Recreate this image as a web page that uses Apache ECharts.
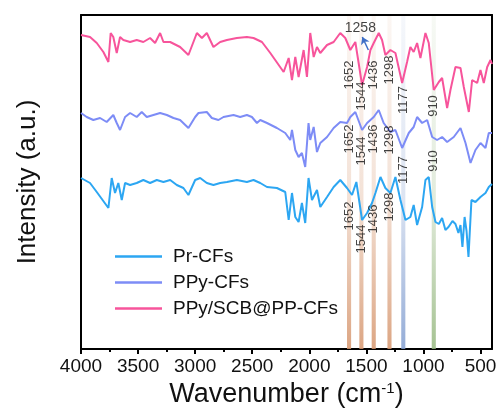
<!DOCTYPE html>
<html>
<head>
<meta charset="utf-8">
<script src="https://cdn.jsdelivr.net/npm/echarts@6/dist/echarts.min.js"></script>
<style>html,body{margin:0;padding:0;background:#fff}#c{width:502px;height:417px}</style>
</head>
<body>
<div id="c"></div>
<script>
// ---------- data (wavenumber in cm-1, intensity in a.u. with vertical offsets as in the figure) ----------
var seriesNames = ['Pr-CFs', 'PPy-CFs', 'PPy/SCB@PP-CFs'];
var seriesColors = ['#2CA6F2', '#7D8CF6', '#F7549B'];

var prWn  = [4000,3921,3862,3760,3731,3702,3673,3643,3614,3570,3512,3454,3395,3336,3278,3219,3161,3103,3059,3000,2956,2898,2840,2781,2722,2635,2547,2489,2430,2371,2284,2211,2181,2152,2123,2094,2065,2036,2007,1977,1933,1904,1845,1787,1729,1670,1626,1588,1538,1494,1451,1421,1377,1334,1290,1246,1202,1158,1115,1086,1056,1012,983,954,924,895,866,837,808,781,746,720,694,676,659,640,623,606,580,545,501,457,428,400];
var prVal = [171,166,157,141,171,156,166,149,166,164,166,169,166,169,167,169,164,161,154,169,171,166,164,166,167,169,167,169,166,162,161,157,129,156,132,127,146,126,171,149,159,142,152,162,169,161,154,167,129,136,146,156,172,161,156,172,149,129,132,144,124,142,169,172,142,127,125,131,119,122,128,125,116,124,102,132,118,92,149,147,152,156,162,165];

var ppyWn  = [4000,3950,3892,3833,3775,3717,3687,3658,3614,3570,3512,3468,3424,3366,3307,3248,3190,3132,3059,3000,2971,2898,2854,2796,2752,2664,2606,2547,2503,2459,2430,2371,2284,2211,2167,2152,2123,2094,2065,2036,2007,1992,1962,1933,1904,1845,1787,1729,1670,1641,1597,1538,1494,1436,1392,1349,1290,1246,1187,1129,1086,1056,1012,968,924,881,837,793,735,676,632,588,545,501,457,428,400];
var ppyVal = [236,232,229,231,227,234,226,219,232,236,232,237,232,234,236,234,231,229,221,232,236,237,231,229,232,234,232,234,232,226,229,226,221,216,209,219,199,192,196,182,226,209,222,197,206,212,221,227,226,232,237,219,226,232,239,226,217,219,201,216,222,232,226,229,212,209,212,207,212,221,206,186,199,206,201,216,216];

var scbWn  = [4000,3921,3862,3804,3760,3740,3717,3687,3658,3629,3570,3512,3454,3395,3351,3307,3278,3219,3132,3059,2985,2941,2898,2840,2781,2722,2635,2547,2489,2415,2342,2225,2181,2152,2123,2094,2050,2021,1992,1962,1933,1904,1845,1787,1729,1685,1641,1597,1538,1494,1465,1436,1392,1363,1334,1290,1246,1187,1144,1115,1086,1056,1027,983,954,910,866,837,793,764,720,676,647,603,574,530,501,472,442,413,400];
var scbVal = [314,312,306,297,287,316,312,296,312,309,307,309,307,311,306,316,307,307,302,294,316,311,316,302,307,309,311,312,311,307,296,277,291,269,292,272,299,272,316,292,302,296,304,307,316,311,299,307,264,282,299,306,316,309,294,299,296,266,287,302,297,306,291,316,306,259,267,271,241,259,282,281,262,237,269,266,279,266,282,289,285];

// marked bands and their labels
var bandWn    = [1652, 1544, 1436, 1298, 1177, 910];
var bandColor = ['214,150,110', '214,150,110', '214,150,110', '214,150,110', '130,158,208', '150,184,128'];

var peakText = ['1652','1544','1436','1298','1177','910', '1652','1544','1436','1298','1177','910', '1652','1544','1436','1298'];
var peakWn   = [1652,1544,1436,1298,1177,910, 1652,1544,1436,1298,1177,910, 1652,1544,1436,1298];
var peakY    = [274,253,274,279,249,243, 210,198,210,209,179,188, 133,110,130,142];

var noteText = '1258';
var notePos = [1553, 321];
var arrowFrom = [1483, 299];
var arrowTo = [1536, 312];

var xTicks = [4000, 3500, 3000, 2500, 2000, 1500, 1000, 500];
var xMinorTicks = [3750, 3250, 2750, 2250, 1750, 1250, 750];
var yTop = 334;

// ---------- chart ----------
var FONT = 'Liberation Sans, Arial, Helvetica, sans-serif';
function zip(a, b) { return a.map(function (v, i) { return [v, b[i]]; }); }

var bandAreas = bandWn.map(function (w, i) {
  var c = bandColor[i];
  return [{
    xAxis: w + 18,
    itemStyle: {
      color: { type: 'linear', x: 0, y: 0, x2: 0, y2: 1,
        colorStops: [{ offset: 0, color: 'rgba(' + c + ',0.08)' },
                     { offset: 0.55, color: 'rgba(' + c + ',0.28)' },
                     { offset: 1, color: 'rgba(' + c + ',0.85)' }] }
    }
  }, { xAxis: w - 18 }];
});

var labelData = peakText.map(function (t, i) {
  return { name: t, value: [peakWn[i], peakY[i]] };
});
labelData.push({ name: noteText, value: notePos, label: { rotate: 0, fontSize: 14 } });

var series = [0, 1, 2].map(function (k) {
  var wn = [prWn, ppyWn, scbWn][k], val = [prVal, ppyVal, scbVal][k];
  return {
    name: seriesNames[k], type: 'line', data: zip(wn, val),
    showSymbol: false, symbol: 'none', smooth: false,
    lineStyle: { color: seriesColors[k], width: 2 },
    itemStyle: { color: seriesColors[k] },
    z: 3
  };
});
// top frame line of the plot box
series[0].markLine = {
  silent: true, symbol: ['none', 'none'], label: { show: false },
  lineStyle: { color: '#000', width: 2, type: 'solid' },
  data: [{ yAxis: yTop }]
};

series.push({
  name: 'labels', type: 'scatter', data: labelData,
  symbolSize: 1, itemStyle: { color: 'transparent' }, silent: true, z: 6,
  label: { show: true, position: 'inside', rotate: 90, fontSize: 13, color: '#111', fontFamily: FONT,
    formatter: function (p) { return p.name; } },
  markArea: { silent: true, data: bandAreas },
  markLine: {
    silent: true, symbol: ['none', 'arrow'], symbolSize: 7,
    lineStyle: { color: '#3F6FC6', width: 1.5, type: 'solid' },
    label: { show: false },
    data: [[{ coord: arrowFrom }, { coord: arrowTo }]]
  }
});

function plain(v) { return String(v); }

var chart = echarts.init(document.getElementById('c'), null, { renderer: 'canvas' });
chart.setOption({
  animation: false,
  backgroundColor: '#fff',
  grid: { left: 81, right: 10, top: 15, bottom: 68, show: false, containLabel: false },
  legend: {
    data: seriesNames, orient: 'vertical', left: 110, top: 242, itemGap: 7,
    itemWidth: 47, itemHeight: 2.5, icon: 'rect',
    textStyle: { fontSize: 19, color: '#111', fontFamily: FONT, padding: [0, 0, 0, 6] }
  },
  xAxis: [{
    type: 'value', inverse: true, min: 400, max: 4000, position: 'bottom',
    name: '{a|Wavenumber (cm}{b|-1}{a|)}', nameLocation: 'middle', nameGap: 28,
    nameTextStyle: { rich: {
      a: { fontSize: 27, color: '#111', fontFamily: FONT },
      b: { fontSize: 15, color: '#111', fontFamily: FONT, verticalAlign: 'top' } } },
    axisLine: { show: true, onZero: false, lineStyle: { color: '#000', width: 2 } },
    axisTick: { show: true, inside: false, length: 5, lineStyle: { width: 2, color: '#000' }, customValues: xTicks },
    axisLabel: { show: true, fontSize: 19, color: '#111', fontFamily: FONT, margin: 8, customValues: xTicks, formatter: plain },
    splitLine: { show: false }
  }, {
    type: 'value', inverse: true, min: 400, max: 4000, position: 'bottom',
    axisLine: { show: false, onZero: false },
    axisTick: { show: true, inside: false, length: 3, lineStyle: { width: 2, color: '#000' }, customValues: xMinorTicks },
    axisLabel: { show: false },
    splitLine: { show: false }
  }, {
    type: 'value', inverse: true, min: 400, max: 4000, position: 'top',
    axisLine: { show: true, onZero: false, lineStyle: { color: '#000', width: 2 } },
    axisTick: { show: false }, axisLabel: { show: false }, splitLine: { show: false }
  }],
  yAxis: [{
    type: 'value', min: 0, max: yTop, position: 'left',
    name: 'Intensity (a.u.)', nameLocation: 'middle', nameGap: 40, nameRotate: 90,
    nameTextStyle: { fontSize: 26, color: '#111', fontFamily: FONT },
    axisLine: { show: true, onZero: false, lineStyle: { color: '#000', width: 2 } },
    axisTick: { show: false }, axisLabel: { show: false }, splitLine: { show: false }
  }, {
    type: 'value', min: 0, max: yTop, position: 'right',
    axisLine: { show: true, onZero: false, lineStyle: { color: '#000', width: 2 } },
    axisTick: { show: false }, axisLabel: { show: false }, splitLine: { show: false }
  }],
  series: series
});
</script>
</body>
</html>
